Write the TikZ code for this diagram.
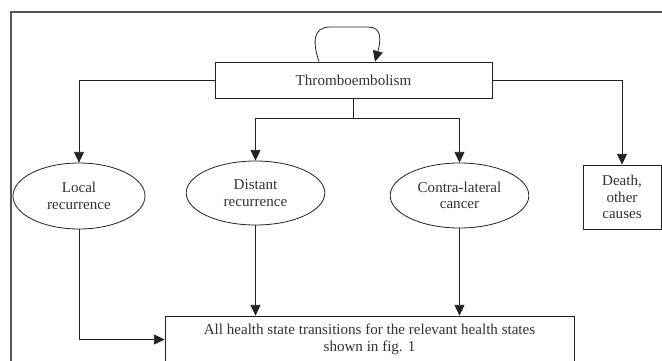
\documentclass[tikz,border=0pt]{standalone}
\usepackage{fontspec}
\setmainfont{Liberation Serif}
\usetikzlibrary{arrows.meta,positioning,calc,shapes.geometric}
\definecolor{framegray}{HTML}{555555}
\definecolor{inkgray}{HTML}{222222}
\definecolor{textgray}{HTML}{333333}
\tikzset{
  statefont/.style={font=\fontsize{11.3}{12.5}\selectfont,text=textgray,align=center},
  statebox/.style={statefont,draw=inkgray,line width=0.6pt,fill=white,inner sep=2pt},
  stateoval/.style={statefont,ellipse,draw=inkgray,line width=0.6pt,fill=white,inner sep=0pt},
  link/.style={draw=inkgray,line width=0.6pt},
  flow/.style={link,-{Triangle[length=8pt,width=7.5pt]}}
}

\begin{document}
\begin{tikzpicture}[x=0.75pt,y=-0.75pt]
  \clip (0,0) rectangle (662,361);
  \draw[framegray,line width=1.1pt] (11,12) rectangle (700,400);
  \node[statebox,minimum width=207.75pt,minimum height=27pt] (thrombo) at (353.5,80) {Thromboembolism};
  \node[stateoval,minimum width=99pt,minimum height=49.5pt] (local) at (79,196) {Local\\recurrence};
  \node[stateoval,minimum width=104pt,minimum height=48pt] (distant) at (255.5,193) {Distant\\recurrence};
  \node[stateoval,minimum width=104pt,minimum height=48.75pt] (contra) at (459.5,195.5) {Contra-lateral\\cancer};
  \node[statebox,minimum width=58.5pt,minimum height=48pt] (death) at (622,197) {Death,\\other\\causes};
  \node[statebox,minimum width=306.75pt,minimum height=35.25pt] (allstates) at (369.5,339.5) {All health state transitions for the relevant health states\\shown in fig. 1};
  \coordinate (split) at ($(thrombo.south)+(0,20)$);
  % self transition
  \draw[flow] ($(thrombo.north)+(-34.5,0)$) .. controls (313,44) and (312,27) .. (330,27)
    -- (368,27) .. controls (382,27) and (381,40) .. ($(thrombo.north)+(21.5,0)$);
  \draw[flow] (thrombo.west) -| (local.north);
  \draw[flow] (thrombo.east) -| (death.north);
  \draw[link] (thrombo.south) -- (split);
  \draw[flow] (split) -| (distant.north);
  \draw[flow] (split) -| (contra.north);
  \draw[flow] (distant.south) -- (distant.south |- allstates.north);
  \draw[flow] (contra.south) -- (contra.south |- allstates.north);
  \draw[flow] (local.south) |- (allstates.west);
\end{tikzpicture}
\end{document}
